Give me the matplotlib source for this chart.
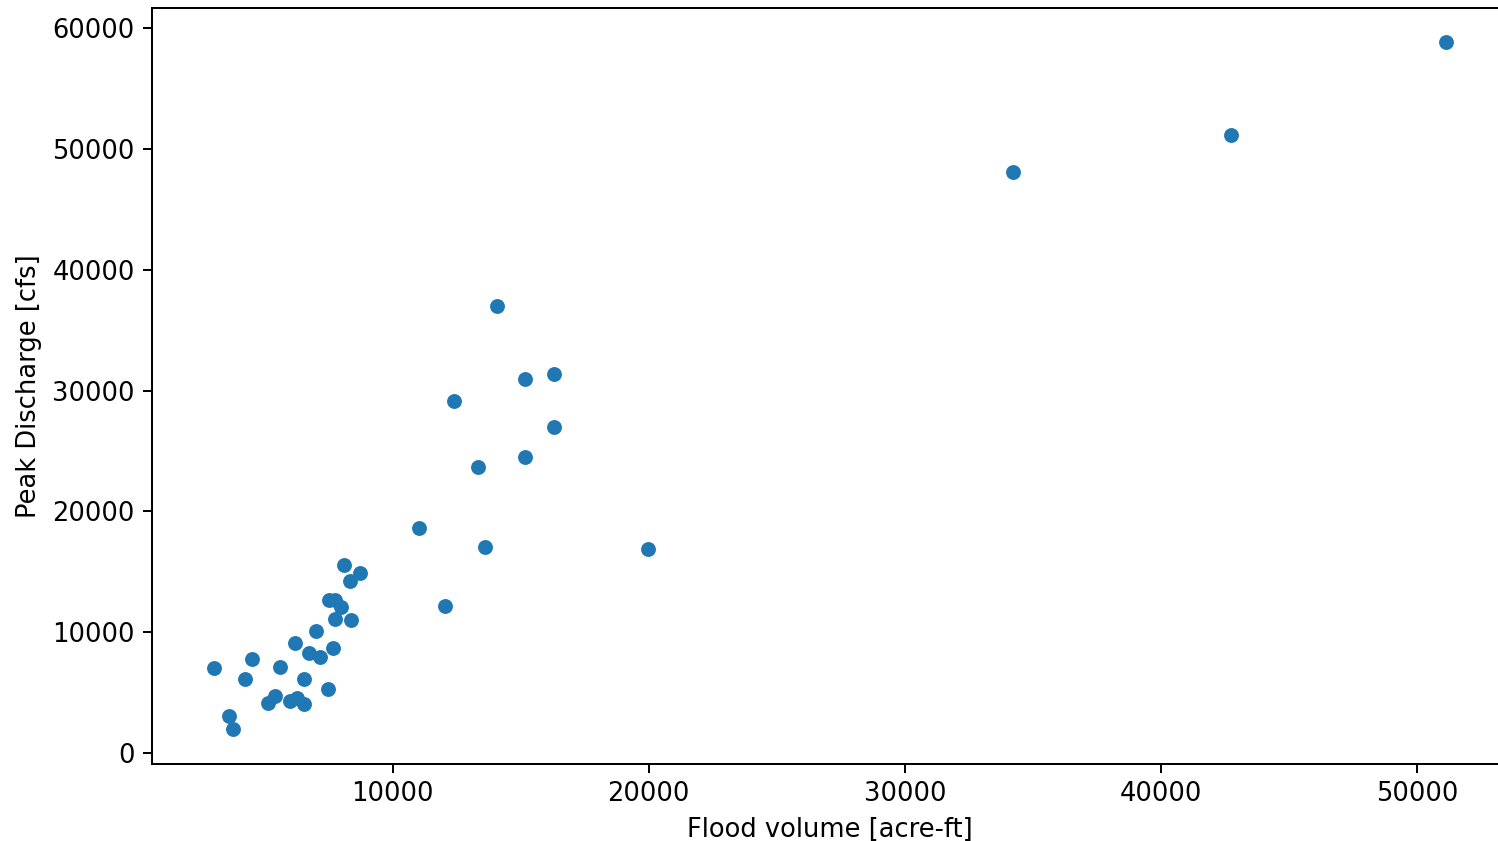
import matplotlib
matplotlib.use("Agg")
import matplotlib.pyplot as plt

flood_volume = [8090, 8741, 8324, 7504, 7766, 7988, 7739, 8390, 7024, 6205,
                6751, 7153, 7676, 4527, 3017, 5620, 4226, 6529, 7481, 5424,
                5140, 6010, 6271, 6529, 3629, 3758, 14076, 15180, 16312, 12410,
                16312, 15180, 13319, 11017, 13608, 19992, 12031, 34224, 42732, 51122]
peak_discharge = [15560, 14922, 14260, 12662, 12662, 12108, 11090, 11007, 10097, 9079,
                  8251, 7920, 8665, 7780, 7010, 7142, 6099, 6099, 5272, 4742,
                  4113, 4328, 4527, 4030, 3062, 1961, 36994, 30953, 31367, 29157,
                  27005, 24522, 23694, 18596, 17073, 16858, 12166, 48084, 51147, 58818]

k = 1.786  # scale from default points
plt.rcParams.update({
    "font.size": 18.5,
    "axes.linewidth": 0.8 * k,
    "xtick.major.size": 3.5 * k,
    "ytick.major.size": 3.5 * k,
    "xtick.major.width": 0.8 * k,
    "ytick.major.width": 0.8 * k,
    "xtick.major.pad": 3.5 * k,
    "ytick.major.pad": 3.5 * k,
    "axes.labelpad": 4.0 * k,
})

W, H = 1498, 841
fig = plt.figure(figsize=(W / 100, H / 100), dpi=100)
left, right, bottom, top = 152, 1507.6, 763.7, 8
ax = fig.add_axes([left / W, 1 - bottom / H, (right - left) / W, (bottom - top) / H])
ax.scatter(flood_volume, peak_discharge, s=(6 * k) ** 2, color="#1f77b4", linewidths=0)
ax.set_xlabel("Flood volume [acre-ft]")
ax.set_ylabel("Peak Discharge [cfs]")
ax.set_xticks([10000, 20000, 30000, 40000, 50000])
ax.set_yticks([0, 10000, 20000, 30000, 40000, 50000, 60000])
fig.savefig("out.png", dpi=100)
